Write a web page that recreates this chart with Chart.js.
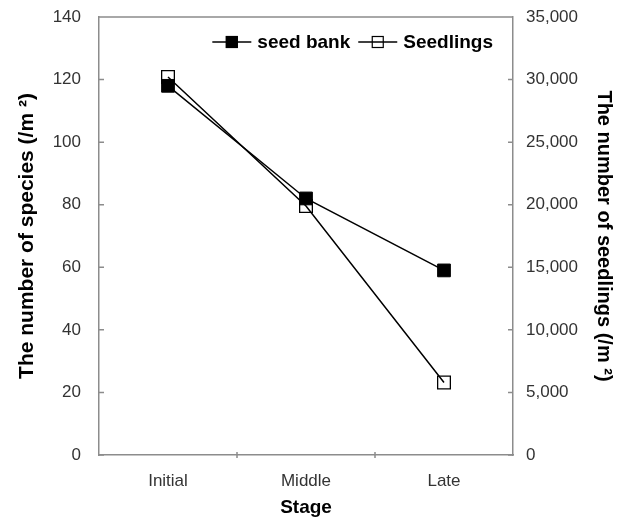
<!DOCTYPE html>
<html>
<head>
<meta charset="utf-8">
<script src="https://cdn.jsdelivr.net/npm/chart.js@4.4.0/dist/chart.umd.min.js"></script>
<style>
  html, body { margin: 0; padding: 0; background: #fff; }
  #wrap { width: 628px; height: 521px; }
</style>
</head>
<body>
<div id="wrap"><canvas id="chart"></canvas></div>
<script>
// data
const stages = ['Initial', 'Middle', 'Late'];
const seedBank = [118, 82, 59];            // species (/m2), left axis
const seedlings = [30200, 19900, 5800];    // seedlings (/m2), right axis
const speciesTicks = [0, 20, 40, 60, 80, 100, 120, 140];
const seedlingTicks = [0, 5000, 10000, 15000, 20000, 25000, 30000, 35000];

const FONT = "'Liberation Sans', Arial, sans-serif";
const AXIS = '#8c8c8c';

// inward tick marks + top frame line, like the original
const frameTicks = {
  id: 'frameTicks',
  afterDraw(chart) {
    const { ctx, chartArea: a, scales } = chart;
    ctx.save();
    ctx.strokeStyle = AXIS;
    ctx.lineWidth = 1.5;
    ctx.beginPath();
    ctx.moveTo(a.left, a.top); ctx.lineTo(a.right, a.top);
    scales.y.ticks.forEach(t => {
      const py = scales.y.getPixelForValue(t.value);
      ctx.moveTo(a.left, py); ctx.lineTo(a.left + 5, py);
    });
    scales.y2.ticks.forEach(t => {
      const py = scales.y2.getPixelForValue(t.value);
      ctx.moveTo(a.right, py); ctx.lineTo(a.right - 5, py);
    });
    for (let i = 1; i < stages.length; i++) {
      const px = (scales.x.getPixelForValue(i - 1) + scales.x.getPixelForValue(i)) / 2;
      ctx.moveTo(px, a.bottom + 3); ctx.lineTo(px, a.bottom - 3);
    }
    ctx.stroke();
    ctx.restore();
  }
};

// legend in the top-right corner of the plot: line with square marker, then label
const insideLegend = {
  id: 'insideLegend',
  afterDraw(chart) {
    const { ctx, chartArea: a } = chart;
    const sets = chart.data.datasets;
    ctx.save();
    ctx.font = 'bold 19px ' + FONT;
    ctx.textBaseline = 'middle';
    const iconW = 39, gap = 6, spacing = 8;
    const widths = sets.map(ds => iconW + gap + ctx.measureText(ds.label).width);
    let x = a.right - 20 - widths.reduce((s, w) => s + w, 0) - spacing * (sets.length - 1);
    const y = a.top + 25;
    sets.forEach((ds, i) => {
      ctx.strokeStyle = '#000';
      ctx.lineWidth = 1.5;
      ctx.beginPath(); ctx.moveTo(x, y); ctx.lineTo(x + iconW, y); ctx.stroke();
      const sx = x + iconW / 2 - 6;
      if (i === 0) { ctx.fillStyle = '#000'; ctx.fillRect(sx, y - 6, 12, 12); }
      ctx.lineWidth = 1.2;
      ctx.strokeRect(sx + 0.5, y - 5.5, 11, 11);
      ctx.fillStyle = '#000';
      ctx.fillText(ds.label, x + iconW + gap, y + 1);
      x += widths[i] + spacing;
    });
    ctx.restore();
  }
};

const tickFont = { family: FONT, size: 17 };

// keep the plot frame where the original has it (labels may overhang)
function noLabelPad(s) { s.paddingTop = 0; s.paddingBottom = 0; }

new Chart(document.getElementById('chart'), {
  type: 'line',
  data: {
    labels: stages,
    datasets: [
      {
        label: 'seed bank',
        data: seedBank,
        yAxisID: 'y',
        borderColor: '#000',
        borderWidth: 1.5,
        backgroundColor: '#000',
        pointStyle: 'rect',
        pointRadius: 9,
        pointBorderWidth: 1,
        pointBackgroundColor: '#000',
        pointBorderColor: '#000',
        tension: 0
      },
      {
        label: 'Seedlings',
        data: seedlings,
        yAxisID: 'y2',
        borderColor: '#000',
        borderWidth: 1.5,
        backgroundColor: 'rgba(0,0,0,0)',
        pointStyle: 'rect',
        pointRadius: 9,
        pointBorderWidth: 1.3,
        pointBackgroundColor: 'rgba(0,0,0,0)',
        pointBorderColor: '#000',
        tension: 0
      }
    ]
  },
  options: {
    responsive: true,
    maintainAspectRatio: false,
    animation: false,
    events: [],
    layout: { padding: { top: 17, left: 0, right: 0, bottom: 0 } },
    plugins: {
      tooltip: { enabled: false },
      legend: { display: false }
    },
    scales: {
      x: {
        offset: true,
        grid: { display: false, drawTicks: false },
        border: { display: true, color: AXIS, width: 1.5 },
        ticks: { font: tickFont, color: '#333', padding: 16 },
        title: { display: true, text: 'Stage', font: { family: FONT, size: 19, weight: 'bold' }, color: '#000', padding: { top: 0, bottom: 2 } },
        afterFit(s) { s.height = 66; s.paddingLeft = 0; s.paddingRight = 0; }
      },
      y: {
        position: 'left',
        min: 0, max: 140,
        afterBuildTicks(s) { s.ticks = speciesTicks.map(v => ({ value: v })); },
        grid: { display: false, drawTicks: false },
        border: { display: true, color: AXIS, width: 1.5 },
        ticks: { font: tickFont, color: '#333', padding: 18 },
        title: { display: true, text: 'The number of species (/m ²)', font: { family: FONT, size: 21, weight: 'bold' }, color: '#000', padding: { top: 15, bottom: 0 } },
        afterFit(s) { s.width = 99; noLabelPad(s); }
      },
      y2: {
        position: 'right',
        min: 0, max: 35000,
        afterBuildTicks(s) { s.ticks = seedlingTicks.map(v => ({ value: v })); },
        grid: { display: false, drawTicks: false },
        border: { display: true, color: AXIS, width: 1.5 },
        ticks: {
          font: tickFont, color: '#333', padding: 13,
          callback: v => v.toString().replace(/\B(?=(\d{3})+(?!\d))/g, ',')
        },
        title: { display: true, text: 'The number of seedlings (/m ²)', font: { family: FONT, size: 20, weight: 'bold' }, color: '#000', padding: { top: 12, bottom: 0 } },
        afterFit(s) { s.width = 115; noLabelPad(s); }
      }
    }
  },
  plugins: [frameTicks, insideLegend]
});
</script>
</body>
</html>
